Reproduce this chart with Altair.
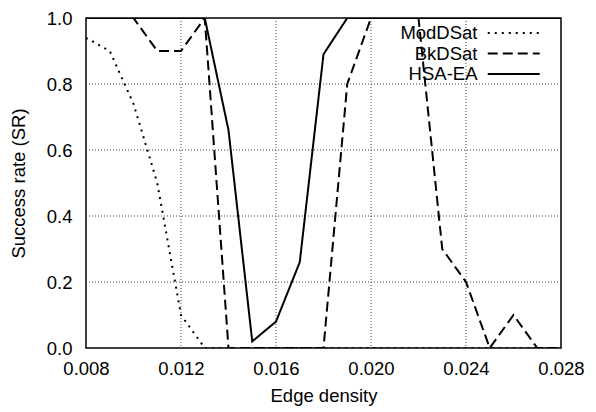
import altair as alt
import pandas as pd

x_vals = [0.008, 0.009, 0.010, 0.011, 0.012, 0.013, 0.014, 0.015, 0.016, 0.017, 0.018,
          0.019, 0.020, 0.021, 0.022, 0.023, 0.024, 0.025, 0.026, 0.027, 0.028]
moddsat = [0.94, 0.90, 0.74, 0.50, 0.10, 0.0, 0.0, 0.0, 0.0, 0.0, 0.0,
           0.0, 0.0, 0.0, 0.0, 0.0, 0.0, 0.0, 0.0, 0.0, 0.0]
bkdsat = [1.0, 1.0, 1.0, 0.90, 0.90, 1.0, 0.0, 0.0, 0.0, 0.0, 0.0,
          0.80, 1.0, 1.0, 1.0, 0.30, 0.20, 0.0, 0.10, 0.0, 0.0]
hsaea = [1.0, 1.0, 1.0, 1.0, 1.0, 1.0, 0.66, 0.02, 0.08, 0.26, 0.89,
         1.0, 1.0, 1.0, 1.0, 1.0, 1.0, 1.0, 1.0, 1.0, 1.0]
series_names = ["ModDSat", "BkDSat", "HSA-EA"]
x_ticks = [0.008, 0.012, 0.016, 0.020, 0.024, 0.028]
y_ticks = [0.0, 0.2, 0.4, 0.6, 0.8, 1.0]

rows = []
for name, vals in zip(series_names, [moddsat, bkdsat, hsaea]):
    for xv, yv in zip(x_vals, vals):
        rows.append({"x": xv, "y": yv, "series": name})
df = pd.DataFrame(rows)
gx = pd.DataFrame({"gx": x_ticks[1:-1]})
gy = pd.DataFrame({"gy": y_ticks[1:-1]})

FONT = "Liberation Sans"
FS = 18.5

xscale = alt.Scale(domain=[0.008, 0.028], nice=False, zero=False)
yscale = alt.Scale(domain=[0, 1], nice=False)

xgrid = alt.Chart(gx).mark_rule(color="#444", strokeWidth=1, strokeDash=[1, 2]).encode(
    x=alt.X("gx:Q", scale=xscale, axis=None))
ygrid = alt.Chart(gy).mark_rule(color="#444", strokeWidth=1, strokeDash=[1, 2]).encode(
    y=alt.Y("gy:Q", scale=yscale, axis=None))

lines = alt.Chart(df).mark_line(color="black", strokeWidth=2, clip=True).encode(
    x=alt.X("x:Q", scale=xscale,
            axis=alt.Axis(title="Edge density", values=x_ticks, format=".3f",
                          labelFlush=False, ticks=False, domain=False, grid=False,
                          labelPadding=11, titlePadding=9)),
    y=alt.Y("y:Q", scale=yscale,
            axis=alt.Axis(title="Success rate (SR)", values=y_ticks, format=".1f",
                          labelFlush=False, ticks=False, domain=False, grid=False,
                          labelPadding=14, titlePadding=18)),
    strokeDash=alt.StrokeDash("series:N",
        scale=alt.Scale(domain=series_names, range=[[2, 5], [10, 5], [1, 0]]),
        legend=alt.Legend(title=None, orient="none", legendX=418.5, legendY=5.75,
                          symbolType="M-4,0H4", symbolSize=169, symbolStrokeWidth=2,
                          symbolStrokeColor="black",
                          labelAlign="right", labelOffset={"expr": "-45.5"}, padding=0,
                          rowPadding=1.5, labelFontSize=FS, labelFont=FONT,
                          labelColor="black")),
    detail="series:N",
)

chart = alt.layer(xgrid, ygrid, lines).resolve_axis(
    x="independent", y="independent"
).properties(
    width=475, height=330,
    autosize=alt.AutoSizeParams(type="none"),
    padding={"left": 86, "top": 18, "right": 35, "bottom": 64},
).configure_view(
    stroke="black", strokeWidth=1.5
).configure_axis(
    labelFont=FONT, titleFont=FONT, labelFontSize=FS, titleFontSize=FS,
    labelColor="black", titleColor="black", titleFontWeight="normal"
)

chart.save("out.html", embed_options={"renderer": "svg", "actions": False})
